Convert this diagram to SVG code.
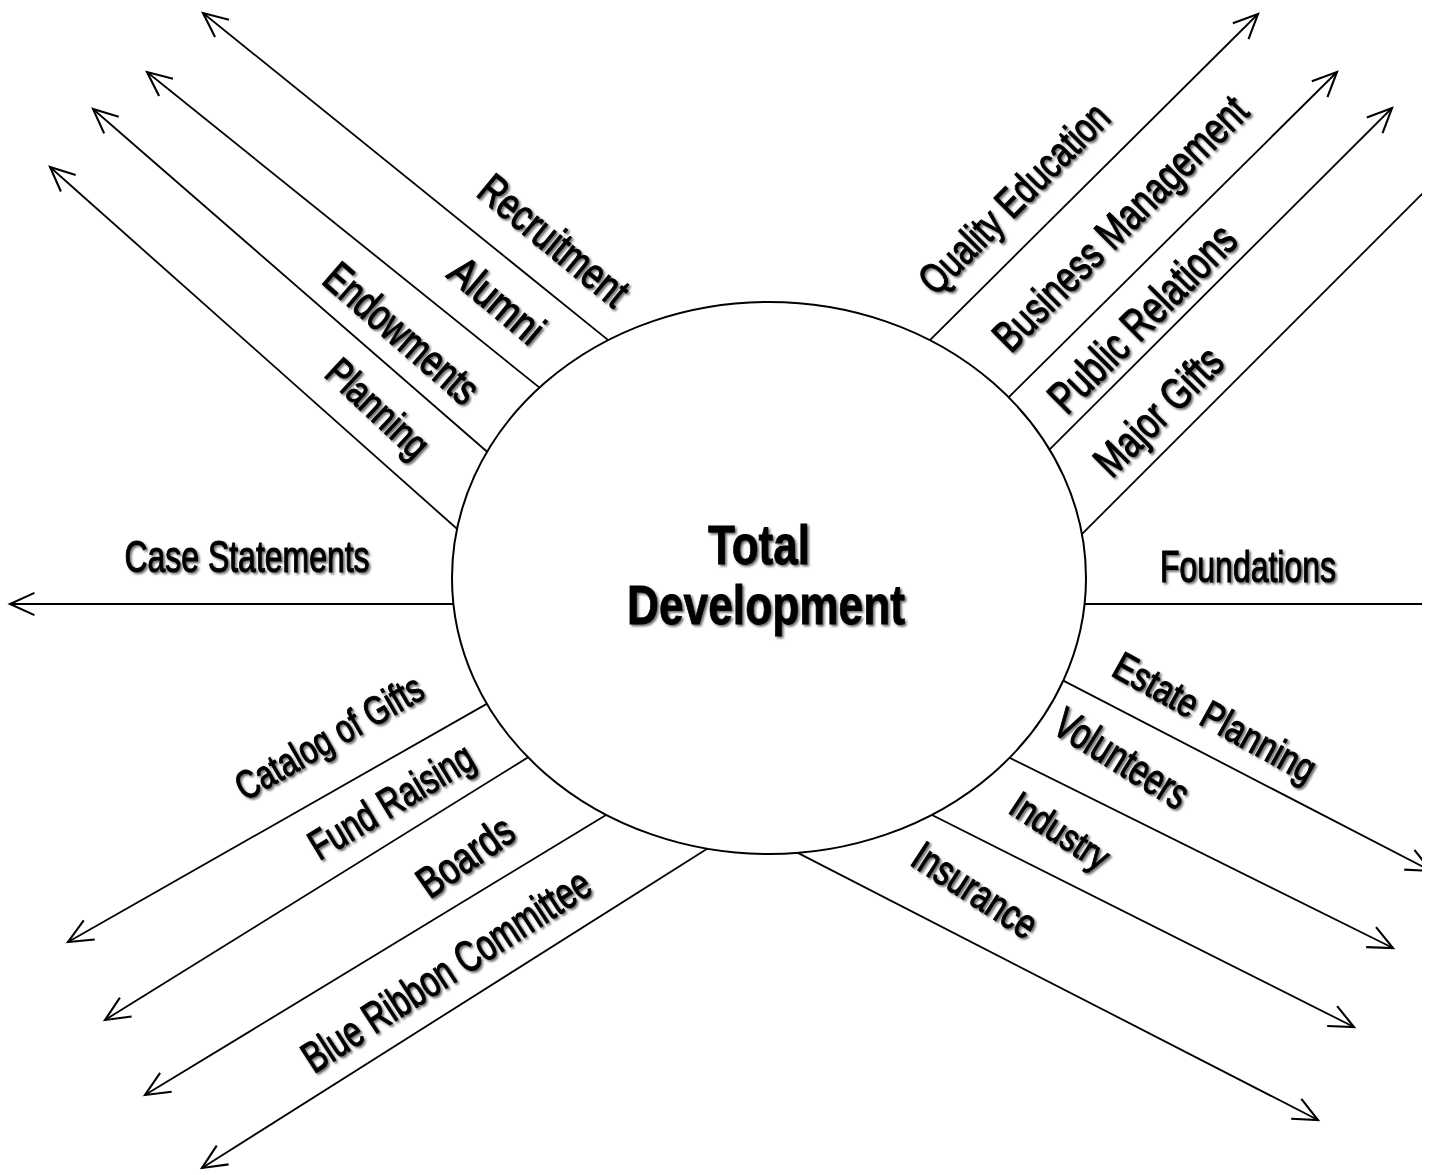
<svg xmlns="http://www.w3.org/2000/svg" width="1434" height="1175" viewBox="0 0 1434 1175">
  <style>
    .ray { stroke: #000; stroke-width: 1.8; fill: none; marker-end: url(#open-arrow); }
    .lbl { font-family: "Liberation Sans", Arial, sans-serif; font-size: 44px; fill: #000; stroke: #000; stroke-width: 1.1; text-anchor: middle; dominant-baseline: central; }
    .title { font-family: "Liberation Sans", Arial, sans-serif; font-size: 55px; font-weight: bold; fill: #000; stroke: #000; stroke-width: 0.8; text-anchor: middle; dominant-baseline: central; }
  </style>
  <defs>
    <marker id="open-arrow" markerUnits="userSpaceOnUse" markerWidth="40" markerHeight="40" viewBox="-30 -15 36 30" refX="0" refY="0" orient="auto">
      <path d="M -22 -10 L 0 0 L -22 10" fill="none" stroke="#000" stroke-width="1.9"/>
    </marker>
    <filter id="shade" x="-10%" y="-10%" width="120%" height="120%">
      <feDropShadow dx="1.8" dy="1.8" stdDeviation="0.9" flood-color="#000" flood-opacity="0.6"/>
    </filter>
    <clipPath id="sheet">
      <rect x="0" y="0" width="1422" height="1175"/>
    </clipPath>
  </defs>

  <rect width="1434" height="1175" fill="#fff"/>

  <!-- radiating connectors, each starting just inside the hub ellipse -->
  <g id="connectors" clip-path="url(#sheet)">
    <line class="ray" x1="614.7" y1="345.4" x2="203" y2="13"/>
    <line class="ray" x1="541.7" y1="389.4" x2="147" y2="72"/>
    <line class="ray" x1="496.3" y1="459.8" x2="93" y2="109"/>
    <line class="ray" x1="466.2" y1="537" x2="50" y2="167"/>
    <line class="ray" x1="467" y1="604" x2="10" y2="604"/>
    <line class="ray" x1="923.4" y1="346.6" x2="1258" y2="14"/>
    <line class="ray" x1="1001.3" y1="404.6" x2="1337" y2="72"/>
    <line class="ray" x1="1041.4" y1="457.6" x2="1392" y2="108"/>
    <line class="ray" x1="1075.4" y1="540.6" x2="1460" y2="156"/>
    <line class="ray" x1="1071" y1="604" x2="1460" y2="604"/>
    <line class="ray" x1="1052.7" y1="675.1" x2="1431" y2="871"/>
    <line class="ray" x1="994.6" y1="750.3" x2="1393" y2="948"/>
    <line class="ray" x1="918.6" y1="808.3" x2="1354" y2="1027"/>
    <line class="ray" x1="784.7" y1="846.1" x2="1318" y2="1120"/>
    <line class="ray" x1="503" y1="694.6" x2="68" y2="942"/>
    <line class="ray" x1="539.7" y1="750.1" x2="105" y2="1020"/>
    <line class="ray" x1="618.8" y1="807.2" x2="145" y2="1095"/>
    <line class="ray" x1="714.7" y1="844" x2="202" y2="1168"/>
  </g>

  <!-- central hub -->
  <g id="hub">
    <ellipse cx="769" cy="578" rx="317" ry="276" fill="#fff" stroke="#000" stroke-width="2"/>
    <g filter="url(#shade)">
      <text class="title" x="759" y="545" textLength="102" lengthAdjust="spacingAndGlyphs">Total</text>
      <text class="title" x="766" y="605" textLength="278" lengthAdjust="spacingAndGlyphs">Development</text>
    </g>
  </g>

  <!-- upper-left branch labels -->
  <g id="recruitment" filter="url(#shade)">
    <text class="lbl" transform="translate(554 240) rotate(39.5)" textLength="180" lengthAdjust="spacingAndGlyphs">Recruitment</text>
  </g>
  <g id="alumni" filter="url(#shade)">
    <text class="lbl" transform="translate(497 300) rotate(40)" style="font-size:43px" textLength="110" lengthAdjust="spacingAndGlyphs">Alumni</text>
  </g>
  <g id="endowments" filter="url(#shade)">
    <text class="lbl" transform="translate(402 333) rotate(41)" textLength="190" lengthAdjust="spacingAndGlyphs">Endowments</text>
  </g>
  <g id="planning" filter="url(#shade)">
    <text class="lbl" transform="translate(378 408) rotate(43)" style="font-size:40px" textLength="125" lengthAdjust="spacingAndGlyphs">Planning</text>
  </g>
  <g id="case-statements" filter="url(#shade)">
    <text class="lbl" transform="translate(247 556)" textLength="245" lengthAdjust="spacingAndGlyphs">Case Statements</text>
  </g>

  <!-- upper-right branch labels -->
  <g id="quality-education" filter="url(#shade)">
    <text class="lbl" transform="translate(1014 198) rotate(-45)" style="font-size:42px" textLength="250" lengthAdjust="spacingAndGlyphs">Quality Education</text>
  </g>
  <g id="business-management" filter="url(#shade)">
    <text class="lbl" transform="translate(1120 223) rotate(-45)" textLength="340" lengthAdjust="spacingAndGlyphs">Business Management</text>
  </g>
  <g id="public-relations" filter="url(#shade)">
    <text class="lbl" transform="translate(1142 318) rotate(-45)" style="font-size:46px" textLength="245" lengthAdjust="spacingAndGlyphs">Public Relations</text>
  </g>
  <g id="major-gifts" filter="url(#shade)">
    <text class="lbl" transform="translate(1158 411) rotate(-45)" textLength="162" lengthAdjust="spacingAndGlyphs">Major Gifts</text>
  </g>
  <g id="foundations" filter="url(#shade)">
    <text class="lbl" transform="translate(1248 566)" textLength="176" lengthAdjust="spacingAndGlyphs">Foundations</text>
  </g>

  <!-- lower-right branch labels -->
  <g id="estate-planning" filter="url(#shade)">
    <text class="lbl" transform="translate(1215 717) rotate(29)" style="font-size:40px" textLength="225" lengthAdjust="spacingAndGlyphs">Estate Planning</text>
  </g>
  <g id="volunteers" filter="url(#shade)">
    <text class="lbl" transform="translate(1122 758) rotate(32)" textLength="150" lengthAdjust="spacingAndGlyphs">Volunteers</text>
  </g>
  <g id="industry" filter="url(#shade)">
    <text class="lbl" transform="translate(1060 831) rotate(33)" style="font-size:38px" textLength="110" lengthAdjust="spacingAndGlyphs">Industry</text>
  </g>
  <g id="insurance" filter="url(#shade)">
    <text class="lbl" transform="translate(975 890) rotate(33)" style="font-size:42px" textLength="140" lengthAdjust="spacingAndGlyphs">Insurance</text>
  </g>

  <!-- lower-left branch labels -->
  <g id="catalog-of-gifts" filter="url(#shade)">
    <text class="lbl" transform="translate(329 737) rotate(-30)" style="font-size:40px" textLength="210" lengthAdjust="spacingAndGlyphs">Catalog of Gifts</text>
  </g>
  <g id="fund-raising" filter="url(#shade)">
    <text class="lbl" transform="translate(391 801) rotate(-31)" style="font-size:42px" textLength="185" lengthAdjust="spacingAndGlyphs">Fund Raising</text>
  </g>
  <g id="boards" filter="url(#shade)">
    <text class="lbl" transform="translate(465 856) rotate(-35)" textLength="108" lengthAdjust="spacingAndGlyphs">Boards</text>
  </g>
  <g id="blue-ribbon-committee" filter="url(#shade)">
    <text class="lbl" transform="translate(446 970) rotate(-33)" textLength="335" lengthAdjust="spacingAndGlyphs">Blue Ribbon Committee</text>
  </g>
</svg>
